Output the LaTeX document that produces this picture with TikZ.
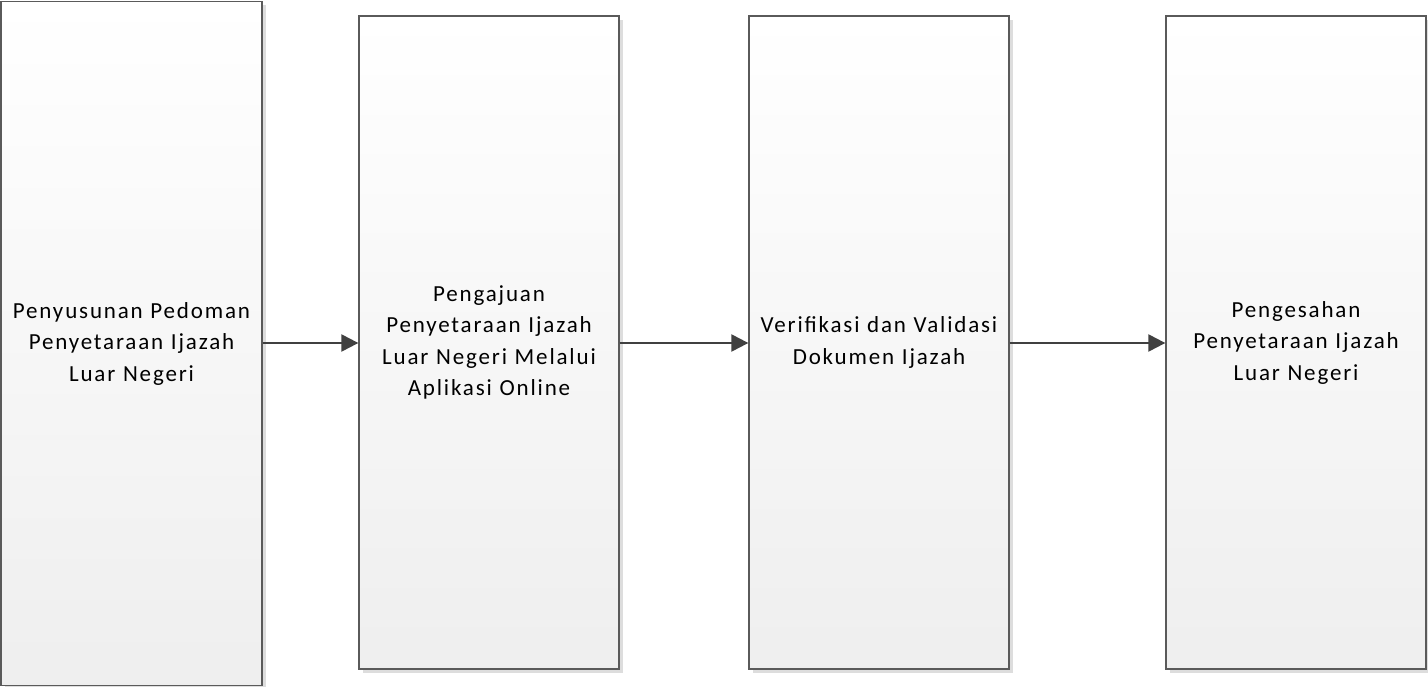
\documentclass[tikz,border=0pt]{standalone}
\usepackage{fontspec}
\setmainfont{Carlito}[LetterSpace=8]
\usetikzlibrary{shadows,arrows.meta}
\definecolor{edge}{HTML}{5A5A5A}
\definecolor{arrowc}{HTML}{404040}
\tikzset{
  stagebox/.style={draw=edge, line width=1.3pt, top color=white, bottom color=gray!13,
    drop shadow={shadow xshift=4pt, shadow yshift=-4pt, fill=gray!45, opacity=0.6},
    align=center, inner sep=2pt, font=\fontsize{23}{31.5}\selectfont, text=black},
  flow/.style={draw=arrowc, line width=2.2pt, -{Triangle[length=17pt,width=17pt]}}
}
\begin{document}
\begin{tikzpicture}[x=1pt,y=1pt]
\useasboundingbox (0,0) rectangle (1428,-687);
\node[stagebox, minimum width=261pt, minimum height=684pt, text width=257pt] (b1) at (131.5,-343.5)
  {Penyusunan Pedoman\\Penyetaraan Ijazah\\Luar Negeri};
\node[stagebox, minimum width=260pt, minimum height=653pt, text width=256pt] (b2) at (489,-342.5)
  {Pengajuan\\Penyetaraan Ijazah\\Luar Negeri Melalui\\Aplikasi Online};
\node[stagebox, minimum width=260pt, minimum height=653pt, text width=256pt] (b3) at (879,-342.5)
  {Verifikasi dan Validasi\\Dokumen Ijazah};
\node[stagebox, minimum width=260pt, minimum height=653pt, text width=256pt] (b4) at (1296,-342.5)
  {Pengesahan\\Penyetaraan Ijazah\\Luar Negeri};
\draw[flow] (b1.east |- 0,-343) -- (b2.west |- 0,-343);
\draw[flow] (b2.east |- 0,-343) -- (b3.west |- 0,-343);
\draw[flow] (b3.east |- 0,-343) -- (b4.west |- 0,-343);
\end{tikzpicture}
\end{document}
